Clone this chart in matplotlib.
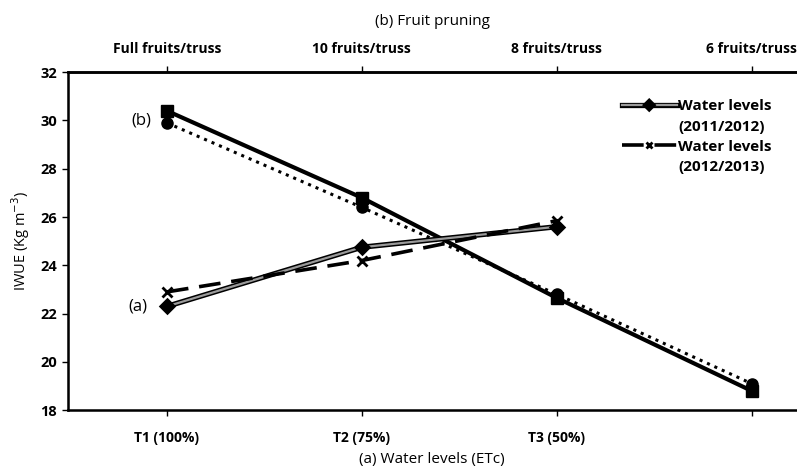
import matplotlib.pyplot as plt
import matplotlib.patheffects as pe
from matplotlib.lines import Line2D

plt.rcParams['font.family'] = ['Open Sans', 'DejaVu Sans']

water_labels = ["T1 (100%)", "T2 (75%)", "T3 (50%)", ""]
fruit_labels = ["Full fruits/truss", "10 fruits/truss", "8 fruits/truss", "6 fruits/truss"]

# (a) water levels, two seasons
water_2011 = [22.3, 24.75, 25.6]
water_2012 = [22.9, 24.2, 25.85]
# (b) fruit pruning, two seasons
fruit_2011 = [30.4, 26.8, 22.65, 18.8]
fruit_2012 = [29.9, 26.4, 22.8, 19.1]

fig = plt.figure(figsize=(7.97, 4.72), dpi=100)
ax = fig.add_axes([0.0853, 0.131, 0.914, 0.716])

xw = range(len(water_2011))
xf = range(len(fruit_2011))

ax.plot(xf, fruit_2011, "-s", color="black", lw=3, ms=8, zorder=3)
ax.plot(xf, fruit_2012, ":o", color="black", lw=2.2, ms=8, zorder=3)
l1, = ax.plot(xw, water_2011, "-D", color="#9a9a9a", lw=1.6, ms=5, mfc="black", mec="black",
              path_effects=[pe.Stroke(linewidth=3.8, foreground="black"), pe.Normal()],
              zorder=4)
l2, = ax.plot(xw, water_2012, "--x", color="black", lw=2.6, ms=7, mew=2,
              dashes=(6, 3), zorder=4)

ax.text(-0.08, 30.0, "(b)", fontsize=12, ha="right", va="center")
ax.text(-0.1, 22.3, "(a)", fontsize=12, ha="right", va="center")

ax.set_xlim(-0.508, 3.23)
ax.set_ylim(18, 32)
ax.set_yticks(range(18, 33, 2))
ax.set_xticks(list(xf))
ax.set_xticklabels(water_labels, fontweight="bold", fontsize=10)
for lab in ax.get_yticklabels():
    lab.set_fontweight("bold")
    lab.set_fontsize(10.5)
ax.tick_params(direction="out", length=4, width=1, pad=11)
ax.tick_params(axis="y", pad=4)
ax.set_xlabel("(a) Water levels (ETc)", fontsize=11, labelpad=5)
ax.set_ylabel("IWUE (Kg m$^{-3}$)", fontsize=10.5, labelpad=6)
ax.spines["right"].set_visible(False)
for s in ("left", "bottom", "top"):
    ax.spines[s].set_linewidth(1.8)

top = ax.twiny()
top.set_xlim(ax.get_xlim())
top.set_xticks(list(xf))
top.set_xticklabels(fruit_labels, fontweight="bold", fontsize=10)
top.tick_params(direction="out", length=4, width=1, pad=8)
top.set_xlabel("(b) Fruit pruning", fontsize=11, labelpad=12)
top.spines["right"].set_visible(False)
top.spines["top"].set_linewidth(1.8)

blank = Line2D([], [], color="none")
ax.legend([l1, blank, l2, blank],
          ["Water levels", "(2011/2012)", "Water levels", "(2012/2013)"],
          loc="upper right", bbox_to_anchor=(0.985, 0.96), frameon=False,
          handlelength=3.6, handletextpad=0.1, labelspacing=0.4, markerscale=0.7,
          prop={"weight": "bold", "size": 11})

fig.savefig("out.png", dpi=100)
